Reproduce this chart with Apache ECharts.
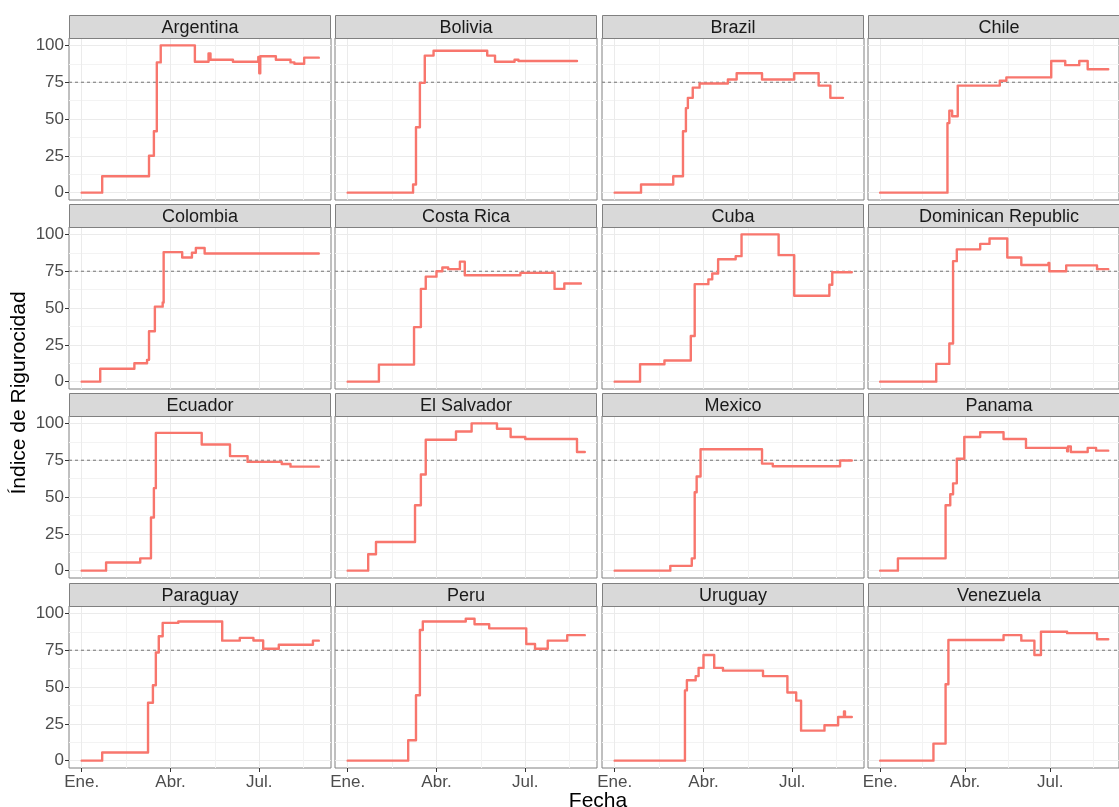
<!DOCTYPE html>
<html>
<head>
<meta charset="utf-8">
<script src="https://cdn.jsdelivr.net/npm/echarts@6/dist/echarts.min.js"></script>
<style>
html,body{margin:0;padding:0;background:#fff;}
#chart{width:1119px;height:807px;}
</style>
</head>
<body>
<div id="chart"></div>
<script>
// Days counted from 2020-01-01 (day 0); value = stringency index
const countries = ['Argentina','Bolivia','Brazil','Chile','Colombia','Costa Rica','Cuba','Dominican Republic',
  'Ecuador','El Salvador','Mexico','Panama','Paraguay','Peru','Uruguay','Venezuela'];

const argentina = [[0,0],[21,11.11],[69,25],[74,41.67],[77,88.43],[81,100],[116,88.89],[130,94.44],[132,90.28],[155,88.89],[181,92.13],[182,81.02],[183,92.59],[199,90.28],[214,88.43],[218,87.5],[228,91.67],[243,91.67]];
const bolivia = [[0,0],[67,5.56],[70,44.44],[74,74.54],[79,93.06],[88,96.3],[143,93.06],[151,88.89],[171,90.28],[175,89.35],[235,89.35]];
const brazil = [[0,0],[27,5.56],[60,11.11],[70,41.67],[73,57.41],[75,64.35],[80,71.3],[87,74.07],[116,76.85],[125,81.02],[151,76.85],[184,81.02],[209,72.69],[221,64.35],[234,64.35]];
const chile = [[0,0],[72,47.22],[74,55.56],[77,51.85],[83,72.69],[128,75.93],[135,78.24],[183,89.35],[198,86.57],[213,89.35],[222,83.8],[244,83.8]];
const colombia = [[0,0],[19,8.8],[54,12.5],[67,14.81],[69,34.26],[75,50.93],[83,53.7],[84,87.96],[103,84.26],[113,87.5],[117,90.74],[126,87.04],[243,87.04]];
const costaRica = [[0,0],[32,11.57],[68,37.04],[75,62.96],[80,71.3],[91,75],[97,77.55],[103,76.39],[115,81.48],[120,72.22],[177,73.84],[212,62.96],[222,66.67],[239,66.67]];
const cuba = [[0,0],[26,11.81],[51,14.35],[78,31.02],[82,66.2],[96,69.44],[100,73.38],[106,83.1],[124,85.19],[130,100],[168,85.88],[184,58.33],[220,65.74],[223,74.31],[243,74.31]];
const dominicanRepublic = [[0,0],[60,12.04],[74,25.93],[78,81.8],[82,89.81],[107,93.52],[117,97.22],[136,84.26],[151,79.17],[180,80.56],[181,75],[199,78.94],[232,76.39],[244,76.39]];
const ecuador = [[0,0],[25,5.56],[60,8.33],[71,36.11],[74,56.02],[76,93.52],[123,85.65],[152,77.78],[170,73.84],[205,72.45],[214,70.6],[243,70.6]];
const elSalvador = [[0,0],[21,11.11],[29,19.44],[69,44.44],[75,65.28],[80,88.89],[111,94.44],[127,100],[153,96.3],[167,90.74],[182,89.35],[235,80.56],[243,80.56]];
const mexico = [[0,0],[57,3.24],[79,8.33],[82,53.24],[84,63.89],[88,82.41],[151,72.69],[162,70.83],[231,74.77],[243,74.77]];
const panama = [[0,0],[19,8.33],[70,44.44],[75,51.85],[78,59.26],[82,75.93],[90,90.74],[107,93.98],[132,89.35],[156,83.33],[200,81.02],[201,84.26],[204,80.56],[222,83.33],[231,81.48],[244,81.48]];
const paraguay = [[0,0],[21,5.56],[68,39.35],[73,51.16],[76,73.38],[79,84.49],[83,93.52],[99,94.44],[144,81.48],[162,83.33],[176,81.6],[186,75.93],[202,78.7],[237,81.48],[243,81.48]];
const peru = [[0,0],[62,13.89],[70,44.44],[74,88.66],[77,94.44],[121,96.3],[130,92.59],[145,89.81],[183,79.17],[192,75.93],[205,81.48],[225,85.19],[243,85.19]];
const uruguay = [[0,0],[72,47.69],[74,54.63],[83,57.41],[86,62.96],[91,71.76],[102,62.96],[111,61.11],[152,57.41],[177,46.3],[186,40.74],[191,20.37],[215,24.07],[229,29.63],[235,33.33],[236,29.63],[243,29.63]];
const venezuela = [[0,0],[57,11.57],[70,51.85],[73,81.94],[132,85.19],[151,81.48],[165,71.76],[172,87.5],[200,86.57],[232,82.41],[244,82.41]];

const seriesData = [argentina,bolivia,brazil,chile,colombia,costaRica,cuba,dominicanRepublic,
  ecuador,elSalvador,mexico,panama,paraguay,peru,uruguay,venezuela];

const xMajorTicks = [0, 91, 182];
const xMajorLabels = ['Ene.', 'Abr.', 'Jul.'];
const xMinorTicks = [45.5, 136.5, 227.5];
const yMajorTicks = [0, 25, 50, 75, 100];
const yMinorTicks = [12.5, 37.5, 62.5, 87.5];
const thresholdValue = 75;

// layout
const colLeft0 = 69, colStep = 266.3, panelW = 262;
const rowTop0 = 15, rowStep = 189.2, stripH = 23, panelH = 162;
const X_MIN = -13, X_MAX = 255.5, Y_MIN = -5, Y_MAX = 105;
const lineColor = '#F8766D';
const borderColor = '#808080';
const FONT = '"Liberation Sans", Arial, sans-serif';

// change points -> step polyline (value holds until the next change)
function toSteps(pts) {
  const out = [];
  pts.forEach((p, i) => {
    if (i > 0) out.push([p[0], pts[i - 1][1]]);
    out.push([p[0], p[1]]);
  });
  return out;
}

const grids = [], xAxes = [], yAxes = [], series = [], graphics = [];

countries.forEach((name, k) => {
  const row = Math.floor(k / 4), col = k % 4;
  const left = Math.round(colLeft0 + col * colStep);
  const stripTop = Math.round(rowTop0 + row * rowStep);
  const top = stripTop + stripH;
  grids.push({left: left, top: top, width: panelW, height: panelH, show: true,
    backgroundColor: '#fff', borderColor: borderColor, borderWidth: 1, containLabel: false});
  const isBottom = row === 3, isLeft = col === 0;
  xAxes.push({
    type: 'value', gridIndex: k, min: X_MIN, max: X_MAX, position: 'bottom',
    axisLine: {show: false, onZero: false},
    axisTick: {show: isBottom, length: 4, lineStyle: {color: '#333', width: 1}, customValues: xMajorTicks},
    axisLabel: {show: isBottom, customValues: xMajorTicks, margin: 6, fontSize: 17, color: '#4D4D4D',
      fontFamily: FONT,
      formatter: v => xMajorLabels[xMajorTicks.indexOf(v)] || ''},
    splitLine: {show: true, lineStyle: {color: '#EBEBEB', width: 1}}
  });
  xAxes.push({
    type: 'value', gridIndex: k, min: X_MIN, max: X_MAX, position: 'top',
    axisLine: {show: false, onZero: false},
    axisTick: {show: false, customValues: xMinorTicks},
    axisLabel: {show: false, customValues: xMinorTicks},
    splitLine: {show: true, lineStyle: {color: '#F3F3F3', width: 1}}
  });
  yAxes.push({
    type: 'value', gridIndex: k, min: Y_MIN, max: Y_MAX, position: 'left',
    axisLine: {show: false, onZero: false},
    axisTick: {show: isLeft, length: 4, lineStyle: {color: '#333', width: 1}, customValues: yMajorTicks},
    axisLabel: {show: isLeft, customValues: yMajorTicks, margin: 5, fontSize: 17, color: '#4D4D4D',
      fontFamily: FONT},
    splitLine: {show: true, lineStyle: {color: '#EBEBEB', width: 1}}
  });
  yAxes.push({
    type: 'value', gridIndex: k, min: Y_MIN, max: Y_MAX, position: 'right',
    axisLine: {show: false, onZero: false},
    axisTick: {show: false, customValues: yMinorTicks},
    axisLabel: {show: false, customValues: yMinorTicks},
    splitLine: {show: true, lineStyle: {color: '#F3F3F3', width: 1}}
  });
  // threshold reference line at 75
  series.push({
    type: 'lines', coordinateSystem: 'cartesian2d', xAxisIndex: 2 * k, yAxisIndex: 2 * k,
    polyline: true, silent: true, z: 2,
    lineStyle: {type: [3, 3], color: '#555', width: 0.8, opacity: 1},
    data: [{coords: [[X_MIN, thresholdValue], [X_MAX, thresholdValue]]}]
  });
  series.push({
    type: 'lines', name: name, coordinateSystem: 'cartesian2d', xAxisIndex: 2 * k, yAxisIndex: 2 * k,
    polyline: true, z: 3,
    lineStyle: {color: lineColor, width: 2.4, opacity: 1, join: 'round', cap: 'round'},
    data: [{coords: toSteps(seriesData[k])}]
  });
  graphics.push({type: 'rect', shape: {x: left + 0.5, y: stripTop + 0.5, width: panelW - 1, height: stripH},
    style: {fill: '#D9D9D9', stroke: borderColor, lineWidth: 1}, z: 10});
  graphics.push({type: 'text', x: left + panelW / 2, y: stripTop + stripH / 2 + 2,
    style: {text: name, textAlign: 'center', textVerticalAlign: 'middle', fill: '#1A1A1A',
      font: '18px ' + FONT}, z: 11});
});

graphics.push({type: 'text', x: 598, y: 801,
  style: {text: 'Fecha', textAlign: 'center', textVerticalAlign: 'middle', fill: '#000',
    font: '21px ' + FONT}, z: 11});
graphics.push({type: 'text', x: 19, y: 393, rotation: Math.PI / 2,
  style: {text: 'Índice de Rigurocidad', textAlign: 'center', textVerticalAlign: 'middle', fill: '#000',
    font: '21px ' + FONT}, z: 11});

const chart = echarts.init(document.getElementById('chart'), null, {renderer: 'canvas'});
chart.setOption({
  animation: false,
  backgroundColor: '#fff',
  grid: grids, xAxis: xAxes, yAxis: yAxes, series: series,
  graphic: graphics
});
</script>
</body>
</html>
